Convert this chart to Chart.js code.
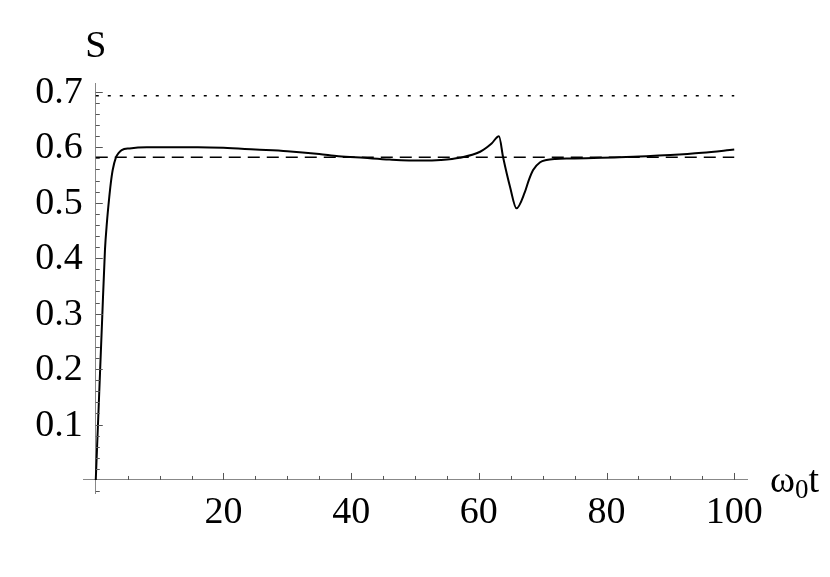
<!DOCTYPE html>
<html>
<head>
<meta charset="utf-8">
<script src="https://cdn.jsdelivr.net/npm/chart.js@4/dist/chart.umd.min.js"></script>
<style>
  body { margin: 0; background: #fff; }
</style>
</head>
<body>
<canvas id="myChart" width="830" height="577"></canvas>
<script>
// entropy curve S(t)
const tValues = [0, 0.5, 1.0, 1.44, 1.75, 2.07, 2.35, 2.65, 3.16, 3.6, 4.06, 5.3, 8, 12, 16, 20, 25, 30, 35, 38, 42, 46, 51, 54, 57, 60.2, 62, 63.15, 63.8, 64.9, 65.9, 67.2, 67.8, 68.5, 69.6, 70.6, 72, 74.3, 82, 90, 95, 100];
const sValues = [0, 0.145, 0.29, 0.415, 0.465, 0.505, 0.535, 0.559, 0.582, 0.59, 0.595, 0.598, 0.6, 0.6, 0.6, 0.599, 0.596, 0.593, 0.588, 0.584, 0.581, 0.578, 0.576, 0.577, 0.581, 0.592, 0.607, 0.62, 0.582, 0.528, 0.49, 0.519, 0.54, 0.559, 0.573, 0.577, 0.579, 0.58, 0.582, 0.586, 0.59, 0.596];

// reference lines
const refT = [0, 100];
const dashedS = [0.582, 0.582];
const dottedS = [0.693, 0.693];

// tick labels
const xTicks = [20, 40, 60, 80, 100];
const yTicks = [0.1, 0.2, 0.3, 0.4, 0.5, 0.6, 0.7];

const toPoints = (xs, ys) => xs.map((x, i) => ({ x: x, y: ys[i] }));

const serif = "'Liberation Serif', 'DejaVu Serif', serif";

// draws the inward tick marks, y tick labels and axis labels like Mathematica
const axisDecor = {
    id: 'axisDecor',
    afterDraw(chart) {
        const ctx = chart.ctx;
        const xs = chart.scales.x;
        const ys = chart.scales.y;
        const x0 = xs.getPixelForValue(0);
        const y0 = ys.getPixelForValue(0);
        ctx.save();
        ctx.strokeStyle = '#555';
        ctx.lineWidth = 1;
        ctx.beginPath();
        // x ticks, minor every 5, major every 20
        for (let v = 5; v <= 100; v += 5) {
            const px = Math.round(xs.getPixelForValue(v)) + 0.5;
            const len = v % 20 === 0 ? 7 : 4;
            ctx.moveTo(px, y0);
            ctx.lineTo(px, y0 - len);
        }
        // y ticks, minor every 0.02, major every 0.1
        for (let k = -1; k <= 35; k++) {
            if (k === 0) continue;
            const v = k * 0.02;
            const py = Math.round(ys.getPixelForValue(v)) + 0.5;
            const len = k % 5 === 0 ? 7 : 4;
            ctx.moveTo(x0, py);
            ctx.lineTo(x0 + len, py);
        }
        ctx.stroke();

        ctx.fillStyle = '#000';
        ctx.font = '38px ' + serif;

        // y tick labels, right aligned left of the axis
        ctx.textAlign = 'right';
        ctx.textBaseline = 'middle';
        for (const v of yTicks) {
            ctx.fillText(v.toFixed(1), x0 - 13, ys.getPixelForValue(v) + 1);
        }

        // axis labels
        ctx.textBaseline = 'alphabetic';
        ctx.textAlign = 'center';
        ctx.fillText('S', x0, 57);
        ctx.textAlign = 'left';
        const lx = xs.right + 23;
        const ly = y0 + 12;
        ctx.fillText('ω', lx, ly);
        let w = ctx.measureText('ω').width;
        ctx.font = '27px ' + serif;
        ctx.fillText('0', lx + w, ly + 6);
        w += ctx.measureText('0').width;
        ctx.font = '38px ' + serif;
        ctx.fillText('t', lx + w, ly);
        ctx.restore();
    }
};

let ctx = document.querySelector('#myChart').getContext('2d');
let entropyChart = new Chart(ctx, {
    type: 'line',
    data: {
        datasets: [{
            label: 'S',
            data: toPoints(tValues, sValues),
            borderColor: '#000',
            borderWidth: 2,
            pointRadius: 0,
            cubicInterpolationMode: 'monotone',
            fill: false
        }, {
            label: 'dashed',
            data: toPoints(refT, dashedS),
            borderColor: '#000',
            borderWidth: 1.5,
            borderDash: [12, 7],
            pointRadius: 0,
            fill: false
        }, {
            label: 'dotted',
            data: toPoints(refT, dottedS),
            borderColor: '#000',
            borderWidth: 1.5,
            borderDash: [3, 9],
            pointRadius: 0,
            fill: false
        }]
    },
    options: {
        responsive: false,
        animation: false,
        layout: { padding: { left: 83, top: 83, right: 83, bottom: 84 } },
        plugins: { legend: { display: false }, tooltip: { enabled: false } },
        scales: {
            x: {
                type: 'linear',
                min: -2,
                max: 102,
                position: { y: 0 },
                afterBuildTicks: (scale) => { scale.ticks = xTicks.map(v => ({ value: v })); },
                grid: { display: false, drawTicks: false },
                border: { display: true, color: '#888', width: 1 },
                ticks: {
                    color: '#000',
                    font: { family: serif, size: 38 },
                    padding: 10,
                    maxRotation: 0,
                    autoSkip: false
                }
            },
            y: {
                type: 'linear',
                min: -0.0235,
                max: 0.716,
                position: { x: 0 },
                afterBuildTicks: (scale) => { scale.ticks = yTicks.map(v => ({ value: v })); },
                grid: { display: false, drawTicks: false },
                border: { display: true, color: '#888', width: 1 },
                ticks: { display: false }
            }
        }
    },
    plugins: [axisDecor]
});
</script>
</body>
</html>
